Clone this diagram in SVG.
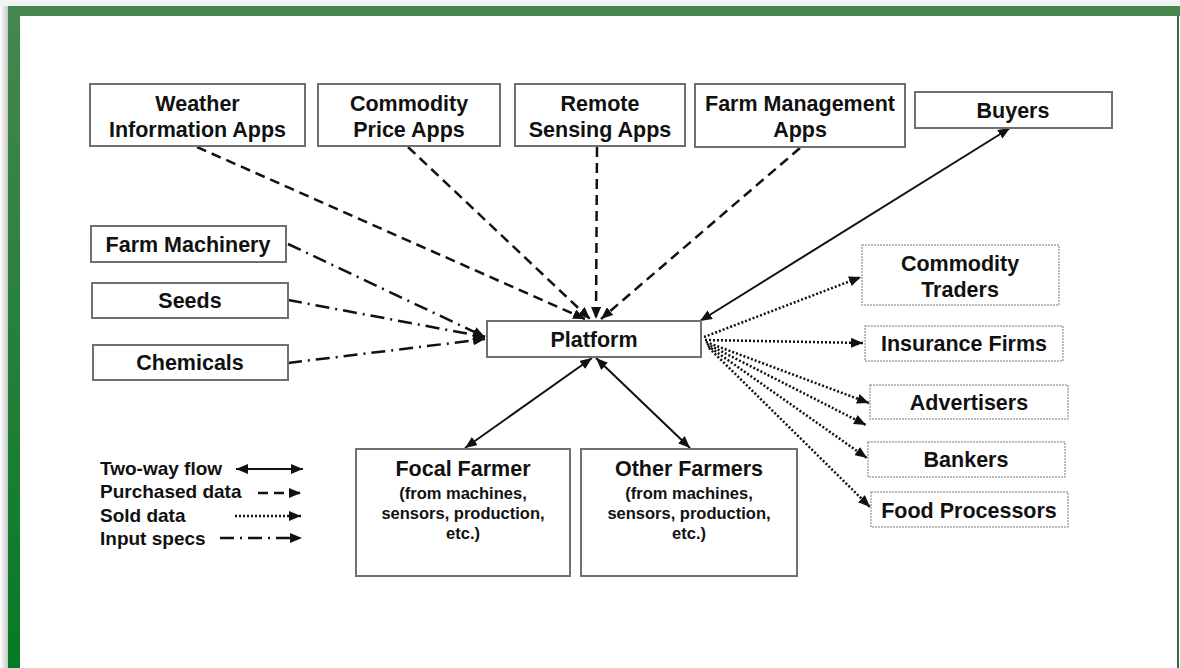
<svg xmlns="http://www.w3.org/2000/svg" width="1180" height="668" viewBox="0 0 1180 668">
  <defs>
    <linearGradient id="leftBand" x1="0" y1="0" x2="0" y2="1">
      <stop offset="0" stop-color="#46874f"/>
      <stop offset="1" stop-color="#067a25"/>
    </linearGradient>
    <linearGradient id="shadowL" x1="0" y1="0" x2="1" y2="0">
      <stop offset="0" stop-color="#ffffff"/>
      <stop offset="1" stop-color="#c8c8c8"/>
    </linearGradient>
    <marker id="ah" viewBox="0 0 12 10" refX="12" refY="5" markerWidth="12" markerHeight="10" orient="auto-start-reverse" markerUnits="userSpaceOnUse">
      <path d="M0,0 L12,5 L0,10 z" fill="#111"/>
    </marker>
    <style>
      .box { fill: #fff; stroke: #707070; stroke-width: 2; }
      .boxL { fill: #fff; stroke: #a8a8a8; stroke-width: 1.5; stroke-dasharray: 2 1; }
      .t { font-family: "Liberation Sans", Arial, sans-serif; font-weight: bold; font-size: 21.5px; fill: #111; text-anchor: middle; }
      .s { font-family: "Liberation Sans", Arial, sans-serif; font-weight: bold; font-size: 16.5px; fill: #111; text-anchor: middle; }
      .lg { font-family: "Liberation Sans", Arial, sans-serif; font-weight: bold; font-size: 19px; fill: #111; }
      .two { fill: none; stroke: #111; stroke-width: 2; marker-start: url(#ah); marker-end: url(#ah); }
      .buy { fill: none; stroke: #111; stroke-width: 2.5; stroke-dasharray: 10 6; marker-end: url(#ah); }
      .sold { fill: none; stroke: #111; stroke-width: 2.5; stroke-dasharray: 2 2; marker-end: url(#ah); }
      .inp { fill: none; stroke: #111; stroke-width: 2.5; stroke-dasharray: 14 6 2 6; marker-end: url(#ah); }
    </style>
  </defs>

  <!-- page frame -->
  <rect x="0" y="0" width="1180" height="668" fill="#fff"/>
  <rect x="0" y="0" width="1180" height="6" fill="#f3f3f3"/>
  <rect x="0" y="6" width="8" height="662" fill="url(#shadowL)"/>
  <rect x="8" y="6" width="1172" height="10" fill="#46874f"/>
  <rect x="8" y="6" width="12" height="662" fill="url(#leftBand)"/>
  <rect x="1177" y="16" width="2" height="652" fill="#2f6f3d"/>

  <!-- connectors -->
  <g id="connectors">
    <!-- purchased data -->
    <line class="buy" x1="197" y1="147" x2="585" y2="319"/>
    <line class="buy" x1="408" y1="147" x2="590" y2="319"/>
    <line class="buy" x1="597" y1="147" x2="596" y2="319"/>
    <line class="buy" x1="800" y1="148" x2="601" y2="319"/>
    <!-- input specs -->
    <line class="inp" x1="288" y1="244" x2="485" y2="337"/>
    <line class="inp" x1="288" y1="300" x2="485" y2="337"/>
    <line class="inp" x1="288" y1="363" x2="485" y2="339"/>
    <!-- two-way flows -->
    <line class="two" x1="1010" y1="128" x2="700" y2="321"/>
    <line class="two" x1="592" y1="358" x2="465" y2="448"/>
    <line class="two" x1="596" y1="358" x2="690" y2="448"/>
    <!-- sold data -->
    <line class="sold" x1="704" y1="337" x2="861" y2="277"/>
    <line class="sold" x1="705" y1="340" x2="863" y2="343"/>
    <line class="sold" x1="706" y1="342" x2="869" y2="403"/>
    <line class="sold" x1="707" y1="344" x2="866" y2="425"/>
    <line class="sold" x1="708" y1="346" x2="867" y2="458"/>
    <line class="sold" x1="709" y1="348" x2="870" y2="507"/>
  </g>

  <!-- nodes -->
  <g id="weather"><rect class="box" x="90" y="84" width="215" height="62"/>
    <text class="t" x="197.5" y="111">Weather</text><text class="t" x="197.5" y="137">Information Apps</text></g>
  <g id="commodity-price"><rect class="box" x="318" y="84" width="182" height="62"/>
    <text class="t" x="409" y="111">Commodity</text><text class="t" x="409" y="137">Price Apps</text></g>
  <g id="remote-sensing"><rect class="box" x="515" y="84" width="170" height="62"/>
    <text class="t" x="600" y="111">Remote</text><text class="t" x="600" y="137">Sensing Apps</text></g>
  <g id="farm-management"><rect class="box" x="695" y="84" width="210" height="63"/>
    <text class="t" x="800" y="111">Farm Management</text><text class="t" x="800" y="137">Apps</text></g>
  <g id="buyers"><rect class="box" x="915" y="92" width="197" height="36"/>
    <text class="t" x="1013" y="118">Buyers</text></g>

  <g id="farm-machinery"><rect class="box" x="91" y="226" width="195" height="36"/>
    <text class="t" x="188" y="252">Farm Machinery</text></g>
  <g id="seeds"><rect class="box" x="92" y="283" width="196" height="35"/>
    <text class="t" x="190" y="308">Seeds</text></g>
  <g id="chemicals"><rect class="box" x="93" y="345" width="195" height="35"/>
    <text class="t" x="190" y="370">Chemicals</text></g>

  <g id="platform"><rect class="box" x="487" y="321" width="214" height="36"/>
    <text class="t" x="594" y="347">Platform</text></g>

  <g id="commodity-traders"><rect class="boxL" x="862" y="245" width="197" height="60"/>
    <text class="t" x="960" y="271">Commodity</text><text class="t" x="960" y="297">Traders</text></g>
  <g id="insurance-firms"><rect class="boxL" x="865" y="326" width="198" height="35"/>
    <text class="t" x="964" y="351">Insurance Firms</text></g>
  <g id="advertisers"><rect class="boxL" x="870" y="385" width="198" height="34"/>
    <text class="t" x="969" y="410">Advertisers</text></g>
  <g id="bankers"><rect class="boxL" x="868" y="442" width="197" height="35"/>
    <text class="t" x="966" y="467">Bankers</text></g>
  <g id="food-processors"><rect class="boxL" x="871" y="492" width="197" height="35"/>
    <text class="t" x="969" y="518">Food Processors</text></g>

  <g id="focal-farmer"><rect class="box" x="356" y="449" width="214" height="127"/>
    <text class="t" x="463" y="476">Focal Farmer</text>
    <text class="s" x="463" y="499">(from machines,</text>
    <text class="s" x="463" y="519">sensors, production,</text>
    <text class="s" x="463" y="539">etc.)</text></g>
  <g id="other-farmers"><rect class="box" x="581" y="449" width="216" height="127"/>
    <text class="t" x="689" y="476">Other Farmers</text>
    <text class="s" x="689" y="499">(from machines,</text>
    <text class="s" x="689" y="519">sensors, production,</text>
    <text class="s" x="689" y="539">etc.)</text></g>

  <!-- legend -->
  <g id="legend">
    <text class="lg" x="100" y="475">Two-way flow</text>
    <line class="two" x1="236" y1="469" x2="303" y2="469"/>
    <text class="lg" x="100" y="498">Purchased data</text>
    <line class="buy" x1="258" y1="493" x2="301" y2="493"/>
    <text class="lg" x="100" y="522">Sold data</text>
    <line class="sold" x1="235" y1="516" x2="301" y2="516"/>
    <text class="lg" x="100" y="545">Input specs</text>
    <line class="inp" x1="220" y1="538" x2="302" y2="538"/>
  </g>
</svg>
